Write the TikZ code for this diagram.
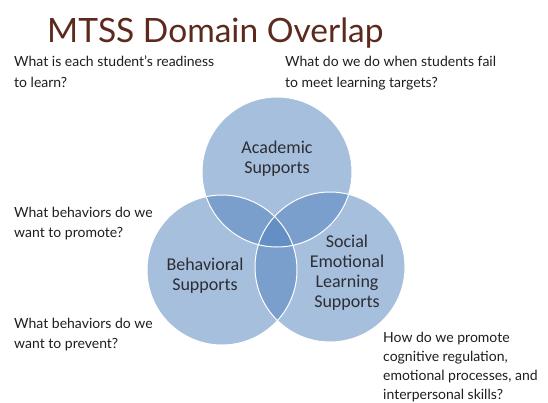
\documentclass[tikz,border=0pt]{standalone}
\usepackage{fontspec}
\setmainfont{Lato}
\newfontfamily\labelfont{Carlito}
\definecolor{titlebrown}{RGB}{92,42,28}
\definecolor{qtext}{RGB}{30,30,30}
\definecolor{ltext}{RGB}{45,45,50}
\definecolor{circblue}{RGB}{79,129,189}
\begin{document}
\begin{tikzpicture}[x=1pt,y=-1pt,
  question/.style={anchor=base west,inner sep=0pt,align=left,text=qtext,font=\fontsize{14}{21}\selectfont},
  clabel/.style={anchor=base,inner sep=0pt,align=center,text=ltext,font=\labelfont\fontsize{18}{20}\selectfont},
  circfill/.style={fill=circblue,fill opacity=0.5,draw=none},
  circline/.style={draw=white,line width=1pt}]
\useasboundingbox (0,0) rectangle (548,402);
\fill[white] (0,0) rectangle (548,402);
% circles
\coordinate (ca) at (277,172);
\coordinate (cb) at (222,270);
\coordinate (cs) at (330,267);
\fill[circfill] (ca) circle (75);
\fill[circfill] (cb) circle (75);
\fill[circfill] (cs) circle (75);
\draw[circline] (ca) circle (75);
\draw[circline] (cb) circle (75);
\draw[circline] (cs) circle (75);
% title
\node[anchor=base west,inner sep=0pt,text=titlebrown,font=\fontsize{33.5}{36}\selectfont] (title) at (47,42) {MTSS Domain Overlap};
% questions (anchor = baseline of last line)
\node[question] (q1) at (14,87) {What is each student’s readiness\\to learn?};
\node[question] (q2) at (285,87) {What do we do when students fail\\to meet learning targets?};
\node[question,font=\fontsize{14}{19.5}\selectfont] (q3) at (14,237) {What behaviors do we\\want to promote?};
\node[question,font=\fontsize{14}{19.5}\selectfont] (q4) at (14,348) {What behaviors do we\\want to prevent?};
\node[question,font=\fontsize{14}{19}\selectfont] (q5) at (383,399) {How do we promote\\cognitive regulation,\\emotional processes, and\\interpersonal skills?};
% circle labels
\node[clabel] (la) at (277,173) {Academic\\Supports};
\node[clabel] (lb) at (205,290) {Behavioral\\Supports};
\node[clabel] (ls) at (347,307) {Social\\Emotional\\Learning\\Supports};
\end{tikzpicture}
\end{document}
